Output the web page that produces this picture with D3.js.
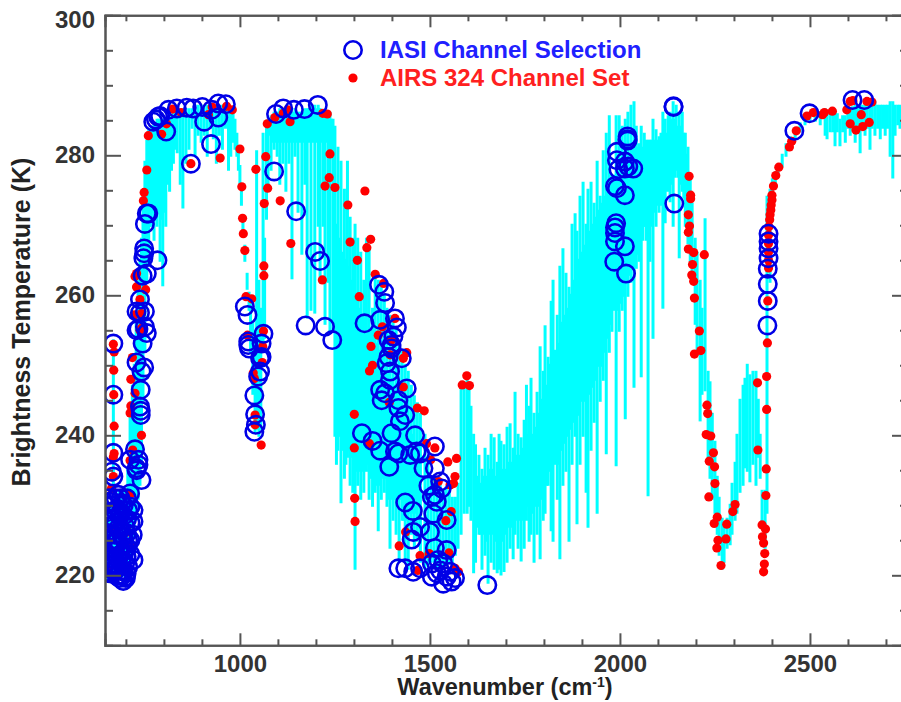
<!DOCTYPE html>
<html>
<head>
<meta charset="utf-8">
<script src="https://cdn.jsdelivr.net/npm/d3@7"></script>
<style>
   html, body { margin: 0; padding: 0; background: #fff; overflow: hidden; }
   text { font-family: "Liberation Sans", Arial, sans-serif; font-weight: bold; }
</style>
</head>
<body>
<svg id="chart" width="901" height="702"></svg>
<script>
// спектр: [волновое число, верх, низ] для каждого столбца
const spectrum = [
   [650,228,219.5],[656,229,220],[661,230,220],[667,253.5,222],[671,232,220],[676,231,220],[682,232,220],[688,231,220],[694,232,220],[700,232,220],
   [705,235,220.5],[711,243,222],[717,247,224],[722,250,226],[727,256,228],[732,262,231],[737,265,233],[741,268,236],[745,274,245],[750,279,252],
   [755,282,262],[760,283.5,266],[767,284,270],[774,284.5,268],[782,285,270],[790,285,265],[797,285,261.5],[805,285,270],[815,285.5,275],[825,286,279],
   [835,286,280.5],[843,286,276],[850,286.5,272.6],[858,286.5,279],[866,286.5,281],[874,286.5,284],[882,287,280],[890,287,283],[898,287,282],[906,287,283],
   [914,287,280],[922,287,284],[930,287,282.5],[938,287,279],[946,287,283],[954,287,281],[962,286.8,284],[970,286.5,278],[976,286.3,280],[982,286,282],
   [987,285,281],[992,283,280],[996,281,278],[1000,278.4,276],[1004,275,273],[1008,271,269],[1013,267,265],[1019,263,261],[1024,260.3,258],[1028,259,252],
   [1034,256,246],[1040,253,240.5],[1044,280.5,241],[1050,262,240],[1055,258,241],[1061,283,253],[1065,268,254],[1070,284,271],[1074,285,275],[1082,285.5,278],
   [1090,286,281],[1098,286,280],[1105,286.5,276],[1113,286.5,279],[1121,286.5,275],[1129,286,279],[1137,286,262.5],[1145,286.5,280],[1153,286,272],[1163,286,266],
   [1171,286.5,276],[1177,286.5,256.9],[1187,287,258],[1197,287,257.6],[1206,287,270],[1211,286.5,262],[1219,286,270],[1224,286,256],[1232,286,262],[1237,286,255],
   [1245,285,255],[1250,284,240],[1258,281,238],[1266,279,230.5],[1275,275,234],[1283,279,237],[1290,271,233],[1297,268,232],[1303,270,221],[1310,268,233],
   [1318,266,231],[1326,262,232],[1333,268,235],[1340,266.5,231],[1349,258,230],[1356,263,232],[1364,262,226.5],[1372,261,231],[1380,260,232],[1387,258,230],
   [1395,257,224],[1403,256,228],[1411,255,226],[1419,253,222],[1427,252,228],[1435,250,222],[1443,249,221],[1451,247,226],[1459,245.5,224],[1467,244.5,225],
   [1475,243,222],[1487,240,221],[1495,236,221.5],[1503,234,222],[1511,234,222],[1519,233,221],[1527,233,222],[1535,232,221],[1543,232.5,222],[1551,232,222],
   [1559,231,222],[1567,231,223],[1574,233,224],[1582,247,226],[1590,247.5,229],[1598,248,229],[1603,247,230],[1608,244,228],[1615,240,220.5],[1620,238.5,222],
   [1629,237,226],[1637,235,221],[1645,238,223],[1653,237,219],[1661,240,222],[1669,239.5,221],[1677,236,220.5],[1682,240,221],[1687,239,220.2],[1695,238.5,220.7],
   [1703,241,222],[1711,241.5,224],[1719,238,222.5],[1724,246,226],[1732,240,224],[1740,239.5,222.2],[1748,242,224],[1754,247,228],[1761,244,225],[1766,248,226],
   [1774,243,222],[1782,246,226],[1790,252.5,222.5],[1798,249,228],[1803,255.5,229],[1811,251,233],[1819,259,226.5],[1824,262,225],[1835,257,231],[1842,264,222.5],
   [1850,266.5,233],[1858,263,235],[1866,261,225],[1874,270,236],[1882,271.5,240],[1887,269,227.5],[1895,274,236],[1903,276,240],[1911,270,232],[1916,275,227],
   [1924,276,238],[1932,273,242],[1940,279,229],[1948,274,245],[1956,280.5,248],[1964,283,237.5],[1972,285.5,252],[1979,277,255],[1990,285.5,235.8],[1998,285.5,255],
   [2006,284,258],[2014,285,242.5],[2021,286,260],[2029,287,262],[2037,287.5,247],[2043,284,264],[2050,281.5,265],[2056,284,248.5],[2064,283,270],[2069,282,268],
   [2074,282,231.5],[2079,282,265],[2087,285,254],[2095,283.5,270],[2103,282.5,272],[2113,286,258.3],[2119,285,270.5],[2127,285.5,276],[2132,286,273.5],[2140,287.5,270],
   [2148,287,278],[2156,286,265.5],[2164,286,275],[2172,283,270],[2179,281,267.5],[2185,277,265],[2190,273,262],[2198,268,256],[2203,266,252],[2211,262,242.2],
   [2216,258,246],[2224,270.8,246.5],[2232,249,236],[2237,247.5,234],[2243,243,231],[2250,239,229],[2256,234,226],[2261,231,223],[2269,228,221],[2274,227.5,222],
   [2282,228,224],[2290,230,224.5],[2295,233,226],[2303,236,228],[2308,240,229],[2316,245,232],[2324,247,233],[2329,248,235.5],[2335,250,235],[2342,248.5,233.5],
   [2350,249,236],[2358,249,233],[2364,245,237],[2369,240,234],[2374,232,227],[2382,232,224],[2387,274,229],[2395,275,262],[2401,276.5,272],[2409,277.5,275.5],
   [2416,278.5,277],[2427,280,278.5],[2437,281.5,280],[2448,282.5,281],[2461,283.5,282.5],[2474,284.5,283.5],[2487,285.5,284.5],[2500,286,285],[2514,286.5,285],[2527,286,284.5],
   [2540,286.5,283],[2545,286,282.5],[2553,286,283.5],[2566,286,281.5],[2579,285,281.5],[2593,285.5,282],[2606,286.5,283],[2619,287,282],[2632,287,280.5],[2645,287,283],
   [2658,287,281],[2671,287.5,283],[2685,287,282.5],[2698,287,283],[2711,287.5,280],[2718,287.5,276.9],[2724,287,283],[2737,287,284],[2750,287,284]
];

// сплошная часть спектра между столбцами: [волновое число, верх, низ]
const spectrumCore = [
   [763,283.5,270],[770,284,272],[778,284.5,272],[786,285,272],[793,285,271],[801,285,272],[810,285,276],[820,285.5,278],[830,286,281],
   [1078,285,283],[1086,285.5,282],[1094,286,282],[1102,286,282],[1109,286,282],[1117,286,282],[1125,286,282],[1133,286,282],[1141,286,282],[1149,286,282],
   [1158,286,282],[1167,286,282],[1174,286,282],[1182,286.5,282],[1192,286.5,282],[1202,286.5,282],[1208,286.5,282],[1215,286,282],[1222,286,282],[1228,286,282],
   [1234,286,282],[1241,285,281],
   [1254,270,236],[1262,268,240],[1270,266,238],[1279,265,236],[1286,264,238],[1293,262,237],[1300,260,234],[1306,260,235],[1314,258,235],[1322,257,235],
   [1329,256,236],[1336,255,236],[1344,255,234],[1352,254,234],[1360,253,233],[1368,252,233],[1376,251,234],[1383,250,234],[1391,249,231],[1399,248,231],
   [1407,247,231],[1415,246,230],[1423,245,231],[1431,244,228],[1439,243,228],[1447,241,229],[1455,240,229],[1463,238,229],[1471,237,230],
   [1625,234,227],[1633,233,226],[1641,234,226],[1649,234,225],[1657,235,226],[1665,235,226],[1673,234,225],[1680,235,225],[1691,235,225],[1699,235,226],
   [1707,236,227],[1715,236,227],[1722,238,228],[1728,237,228],[1736,237,228],[1744,238,228],[1751,240,230],[1758,240,230],[1764,241,229],[1770,240,229],
   [1778,241,230],[1786,243,230],[1794,245,231],[1801,247,232],[1807,247,233],[1815,250,235],[1822,252,233],[1830,252,236],[1838,253,236],[1846,256,238],
   [1854,257,239],[1862,258,240],[1870,260,241],[1878,262,242],[1885,263,243],[1891,265,243],[1899,266,245],[1907,267,245],[1914,268,244],[1920,269,246],
   [1928,270,247],[1936,271,248],[1944,272,250],[1952,273,250],[1960,274,252],[1968,275,254],[1976,276,256],[1985,277,258],[1994,278,258],[2002,278,259],
   [2010,279,260],[2018,279,262],[2025,280,263],[2033,281,264],[2040,281,266],[2047,281,266],[2053,281,267],[2060,281,268],[2067,281,270],[2077,281,271],
   [2083,282,270],[2091,282,272],[2099,282,273],[2108,283,273],[2116,283,274],[2123,283,275],[2130,284,275],[2136,285,276],[2144,285,277],[2152,284,277],
   [2160,284,276],[2168,283,274],[2176,280,272],
   [2560,286,283.5],[2572,285.8,283.5],[2586,285.5,283.5],[2600,286,284],[2612,286.8,284],[2625,287,284],[2638,287,284],[2651,287,284],[2664,287,284],[2678,287,284],
   [2691,287,284],[2704,287,284],[2731,287,284.5],[2744,287,284.5]
];

// каналы IASI: [волновое число, яркостная температура]
const iasiChannels = [
   [755,271.7],[759,271.7],[750,270.2],[772,284.8],[779,285.1],[785,285.5],[790,285.6],[806,283.4],[812,286.5],[834,286.7],
   [860,286.8],[877,286.7],[901,286.9],[906,284.8],[926,286.5],[924,281.6],[871,278.8],[943,287.4],[943,285.4],[963,287.3],
   [1095,285.9],[1114,286.7],[1142,286.5],[1170,286.6],[1205,287.2],[1090,277.7],[1148,272],
   [748,266.7],[748,266],[746,265.3],[783,265],[755,263.1],[744,262.8],[737,259.4],[728,257.7],[737,257.5],[750,257.7],
   [733,255.2],[728,255],[750,255.5],[755,254.6],[744,253.1],[728,250.4],[748,249.7],[741,249.1],[739,246.5],[737,244.1],
   [739,243.5],[739,242.9],[724,238],[711,236.5],[733,236.5],[728,235.3],[667,253.1],[667,245.8],[667,237.5],[663,234.8],
   [1013,258.4],[1020,257.2],[1062,254.5],[1057,253.1],[1022,253.4],[1022,252.9],[1024,252.4],[1053,251],[1057,251.2],[1053,249.1],
   [1048,248.4],[1038,245.7],[1040,243],[1042,241.5],[1038,240.5],
   [667,234.1],[728,235],[741,233.6],[733,235.8],[711,231.7],[680,231.5],[658,230.5],[720,229.3],[689,230.3],[671,229.3],
   [706,229.3],[658,228.1],[684,228.4],[720,227.7],[667,227.2],[698,227],[680,226.7],[718,225.8],[671,225.8],[706,225],
   [662,225],[684,224.1],[662,223.9],[698,223.6],[720,222.2],[671,222.2],[698,221.7],[658,222.4],[667,220.8],[658,220.3],
   [680,220],[702,220.3],[693,219.2],[684,219.6],[698,219.8],[671,223.6],[689,222.2],[654,226],[689,225.5],[702,222.7],
   [676,221.2],[706,221.2],
   [650,229],[650,226],[650,223],[650,220.5],[656,231],[656,227],[656,224],[656,221],[664,230],[664,228],
   [664,224.5],[664,221.5],[673,231],[673,227.5],[673,224.7],[673,220.7],[678,229.5],[678,225],[678,222.5],[686,231],
   [686,229],[686,226.5],[686,223],[686,220.7],[694,230],[694,228.5],[694,225.5],[694,222.8],[694,220.5],[703,231],
   [703,228],[703,226],[703,224],[712,229.8],[712,227.5],[712,225],[712,223],[700,219.6],[690,220],[676,219.9],
   [1198,266.2],[1211,264.9],[1173,255.7],[1224,255.5],[1243,253.6],[1328,256],[1366,261.5],[1380,260.5],[1382,258.9],[1369,256.5],
   [1408,256.7],[1413,255.4],[1404,254.1],[1391,253.6],[1399,252.9],[1399,252.4],[1391,251.2],[1426,251],[1386,250.3],[1395,249.1],
   [1395,247.9],[1369,246.5],[1439,246.7],[1382,246],[1373,245],[1417,245],[1417,243.9],[1435,242.9],[1421,242],[1321,240.3],
   [1399,240.3],[1461,240],[1349,239.2],[1369,237.8],[1393,235.5],[1408,237.7],[1417,237.4],[1448,237.2],[1465,237.7],[1474,237.4],
   [1513,238.4],[1483,235.3],[1513,235.3],[1496,232.8],[1527,233.4],[1531,232.4],[1513,231.5],[1505,231.2],[1518,230.5],[1544,227.9],
   [1435,230.4],[1455,229.2],[1509,228.8],[1474,226.9],[1500,226.2],[1456,226.2],[1452,225.1],[1513,223.9],[1544,223.6],[1417,221],
   [1435,221],[1456,220.5],[1474,221],[1505,221.7],[1522,222.2],[1505,219.8],[1527,220.7],[1544,219.8],[1557,219.1],[1535,218.8],
   [1518,220.3],[1553,220.5],[1535,221.7],[1566,219.6],[1651,218.6],
   [2141,287],[2141,286.9],[2020,282.7],[2020,282.3],[2020,282.1],[1992,280.5],[1992,279.3],[2013,279.1],[1996,278],[2035,278.1],
   [2013,278.1],[2022,278.4],[1987,275.6],[1992,275.3],[2013,274.3],[1990,270.3],[1987,269.7],[1987,268.9],[1987,267.7],[2013,267],
   [1985,264.8],[2016,263.1],[2143,273.1],
   [2459,283.5],[2499,286],[2612,287.9],[2643,287.9],[2391,268.8],[2391,267.7],[2391,266.7],[2391,265.3],[2389,263.8],[2389,261.6],
   [2389,259.2],[2388,255.7]
];

// каналы AIRS: [волновое число, яркостная температура]
const airsChannels = [
   [759,282.8],[794,283],[755,277.9],[748,274.7],[746,273.5],[807,284.5],[823,286.6],[845,286.1],[871,278.8],[917,285.8],
   [927,286.9],[965,287],[980,286.5],[948,279.6],[1000,280.9],[1005,275.5],[1007,271],[1072,284.5],[1092,285.4],[1114,286],
   [1126,286.5],[1132,284.8],[1068,279.8],[1042,278],[1073,275.3],[1064,273.1],[1106,273.5],[1218,286],[1230,285.9],[1237,280.2],
   [1235,276.8],[1224,275.6],[1250,275.4],[1284,272.9],[1329,274.9],
   [1009,268.8],[1013,266.4],[1134,267.4],[1063,264.2],[1063,262.8],[724,262.7],[728,263.1],[728,261.2],[752,260.8],[737,259.4],
   [722,257.2],[741,257.4],[737,255],[741,255.3],[717,251.1],[713,248],[724,246],[713,244.2],[711,243.2],[741,240],
   [718,237.9],[711,236.4],[667,253],[669,251.9],[668,249.3],[668,245.8],[669,241.3],[669,237.4],[667,236.9],
   [1016,259.8],[1031,259.5],[1020,254.3],[1062,254.9],[1060,252.7],[1059,250.4],[1035,248.9],[1038,248.1],[1040,242.9],[1040,241.5],[1056,238.6],
   [1290,267.6],[1344,268],[1334,266.8],[1309,265],[1217,262.2],[1356,263],[1378,261.7],[1314,259.8],[1408,256.7],[1375,255.5],
   [1364,254.3],[1399,253.6],[1345,252.7],[1439,251.8],[1430,251],[1395,251.5],[1349,250],[1341,249.2],[1430,246.9],[1393,244.7],
   [1301,243],[1467,243.9],[1485,243.5],[1597,248.5],[1585,247.2],[1604,247.1],
   [1301,238.2],[1341,238.8],[1491,238.8],[1513,238.2],[1570,236.7],[1547,236.2],[1502,236.5],[1566,234.1],[1562,233.1],[1553,232.9],
   [1522,233.4],[1302,231],[1303,227.7],[1556,229.1],[1542,227.8],[1436,226.2],[1419,224.2],[1474,222.8],[1498,223.1],[1550,223.2],
   [1468,220.7],[1575,220.5],[1566,221],
   [2182,277],[2186,274.3],[2186,273.8],[2180,271.5],[2183,269.9],[2180,269],[2180,266.6],[2194,266.1],[2222,265.8],[2191,264.4],
   [2189,262.9],[2194,262],[2196,259.6],[2464,283.5],[2452,282],[2446,281.2],[2418,278.3],[2410,277.1],[2404,275.6],
   [2400,274.3],[2400,273.6],[2398,272.9],[2397,272.2],[2395,271.5],[2394,270.8],[2392,269.8],[2391,268.6],[2391,267.4],[2391,266.2],[2391,265],[2391,263.9],[2389,259.2],
   [2492,285.6],[2509,286.1],[2533,285.8],[2538,286.1],[2559,286.3],[2597,286.5],[2606,287.7],[2613,287.8],[2650,287.7],[2663,287.6],
   [2635,285.8],[2606,284.5],[2621,283.6],[2639,284.1],[2656,284.7],
   [2209,254.9],[2196,251.6],[2213,252.1],[2229,244.3],[2231,243.1],[2227,240.1],[2239,239.9],[2246,237.5],[2235,236.3],[2249,235.5],
   [2250,233.1],[2234,231.2],[2256,228.3],[2248,227.4],[2258,225],[2255,223.9],[2266,221.4],[2303,230.1],[2297,229.1],[2281,227.3],
   [2279,225.2],[2362,247.5],[2363,237.9],[2388,253.2],[2386,248.4],[2386,243.7],[2385,235.2],[2384,231.4],[2374,227.2],[2383,226.6],
   [2375,225.5],[2378,224.6],[2381,223.1],[2380,221.6],[2378,220.5],
   [667,234.1],[711,231.5],[706,226.2],[715,224.1],[676,230.3],[662,226.7],[693,227.9],[654,223.6],[654,220.5],[684,222.9],[662,232.4]
];

// подписи и деления осей
const xMajor = [1000, 1500, 2000, 2500];
const xMinor = d3.range(700, 2701, 100).filter(d => !xMajor.includes(d));
const yMajor = [220, 240, 260, 280, 300];
const yMinor = d3.range(215, 300, 5).filter(d => !yMajor.includes(d));

const attr_area = { left: 105, right: 908, top: 15.3, bottom: 645.3 };
const tickFont = '"Liberation Sans", Arial, sans-serif';

const svg = d3.select("#chart");

const scaleX = d3.scaleLinear().domain([645, 2758]).range([attr_area.left, attr_area.right]);
const scaleY = d3.scaleLinear().domain([210, 300]).range([attr_area.bottom, attr_area.top]);

// всё внутри рамки обрезается по левой оси
svg.append("clipPath")
   .attr("id", "plotClip")
   .append("rect")
   .attr("x", attr_area.left)
   .attr("y", attr_area.top)
   .attr("width", attr_area.right - attr_area.left)
   .attr("height", attr_area.bottom - attr_area.top);

const plot = svg.append("g").attr("clip-path", "url(#plotClip)");

// спектр рисуем вертикальными столбцами верх -> низ
plot.selectAll(".col")
   .data(spectrumCore.concat(spectrum))
   .enter()
   .append("line")
   .attr("class", "col")
   .attr("x1", d => scaleX(d[0]))
   .attr("x2", d => scaleX(d[0]))
   .attr("y1", d => scaleY(d[1]))
   .attr("y2", d => scaleY(d[2]))
   .attr("stroke", "#00ffff")
   .attr("stroke-width", 3)
   .attr("stroke-linecap", "square");

plot.selectAll(".airs")
   .data(airsChannels)
   .enter()
   .append("circle")
   .attr("class", "airs")
   .attr("cx", d => scaleX(d[0]))
   .attr("cy", d => scaleY(d[1]))
   .attr("r", 4.6)
   .attr("fill", "#ff0000");

plot.selectAll(".iasi")
   .data(iasiChannels)
   .enter()
   .append("circle")
   .attr("class", "iasi")
   .attr("cx", d => scaleX(d[0]))
   .attr("cy", d => scaleY(d[1]))
   .attr("r", 8.7)
   .attr("fill", "none")
   .attr("stroke", "#0000e6")
   .attr("stroke-width", 2.6);

// оси: сначала короткие деления, потом длинные с подписями
function drawAxis(axis, transform, minor, major, minorLen, majorLen, labels) {
   const gMinor = svg.append("g").attr("transform", transform)
       .call(axis.tickValues(minor).tickSize(minorLen).tickFormat(""));
   const gMajor = svg.append("g").attr("transform", transform)
       .call(axis.tickValues(major).tickSize(majorLen).tickPadding(0).tickFormat(labels ? d3.format("d") : ""));
   [gMinor, gMajor].forEach(g => {
       g.selectAll("line").attr("stroke", "#555").attr("stroke-width", 2);
       g.selectAll(".domain").attr("stroke", "#555").attr("stroke-width", 2);
   });
   return gMajor;
}

// длина отрицательная, чтобы деления смотрели внутрь графика
const gBottom = drawAxis(d3.axisBottom(scaleX), `translate(0,${attr_area.bottom})`, xMinor, xMajor, -6, -12, true);
drawAxis(d3.axisTop(scaleX), `translate(0,${attr_area.top})`, xMinor, xMajor, -6, -12, false);
const gLeft = drawAxis(d3.axisLeft(scaleY), `translate(${attr_area.left},0)`, yMinor, yMajor, -8, -16, true);
drawAxis(d3.axisRight(scaleY), `translate(${attr_area.right},0)`, yMinor, yMajor, -8, -16, false);

gBottom.selectAll("text")
   .attr("y", 10)
   .attr("dy", "0.71em")
   .attr("fill", "#333")
   .style("font-size", "24px")
   .style("font-family", tickFont)
   .style("font-weight", "bold");

gLeft.selectAll("text")
   .attr("x", -10)
   .attr("y", d => d === 300 ? 5 : 0)
   .attr("fill", "#333")
   .style("font-size", "24px")
   .style("font-family", tickFont)
   .style("font-weight", "bold");

// подписи осей
const xTitle = svg.append("text")
   .attr("x", 505)
   .attr("y", 695)
   .attr("text-anchor", "middle")
   .attr("fill", "#222")
   .style("font-size", "23.5px");
xTitle.append("tspan").text("Wavenumber (cm");
xTitle.append("tspan").attr("dy", -8).style("font-size", "14px").text("-1");
xTitle.append("tspan").attr("dy", 8).text(")");

svg.append("text")
   .attr("transform", "translate(30,322) rotate(-90)")
   .attr("text-anchor", "middle")
   .attr("fill", "#222")
   .style("font-size", "25px")
   .text("Brightness Temperature (K)");

// легенда
svg.append("circle")
   .attr("cx", 353).attr("cy", 50).attr("r", 8.7)
   .attr("fill", "none").attr("stroke", "#0000e6").attr("stroke-width", 2.6);
svg.append("circle")
   .attr("cx", 353).attr("cy", 78).attr("r", 4.6)
   .attr("fill", "#ff0000");
svg.append("text")
   .attr("x", 380).attr("y", 58)
   .attr("fill", "#2020ff")
   .style("font-size", "24px")
   .text("IASI Channel Selection");
svg.append("text")
   .attr("x", 380).attr("y", 86)
   .attr("fill", "#ff2020")
   .style("font-size", "24px")
   .text("AIRS 324 Channel Set");
</script>
</body>
</html>
